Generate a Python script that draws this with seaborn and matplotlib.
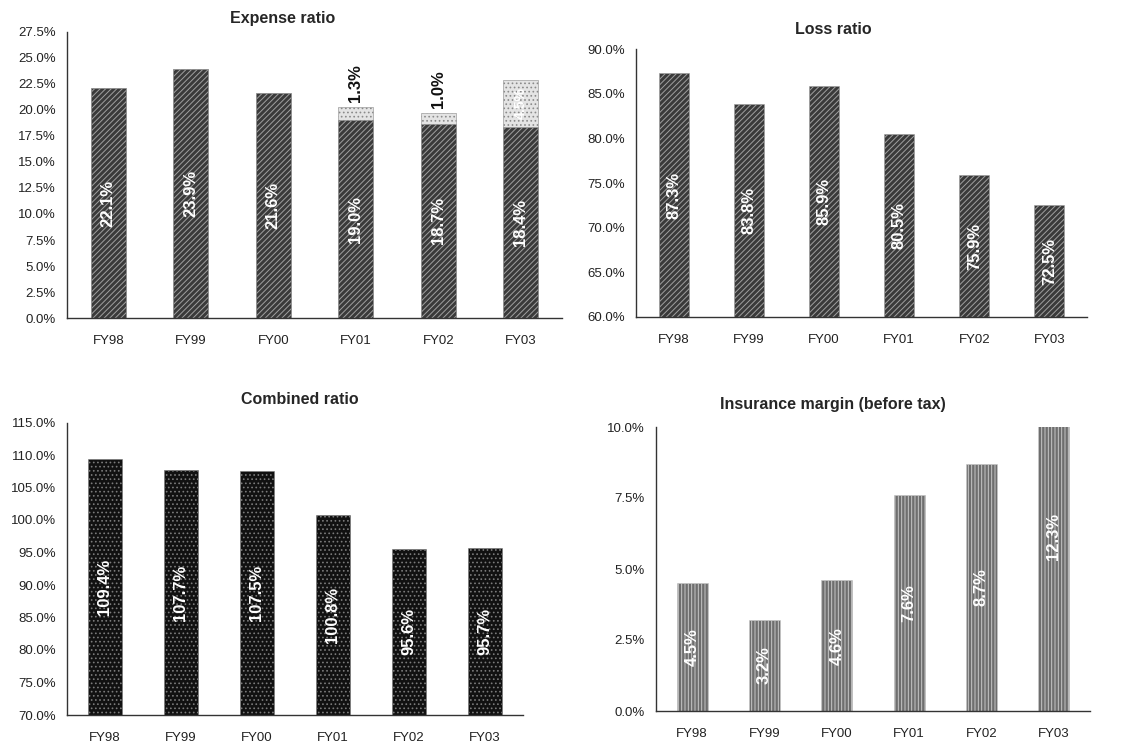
import matplotlib
matplotlib.use("Agg")
import matplotlib.pyplot as plt
import seaborn as sns
import numpy as np
from matplotlib.ticker import PercentFormatter, MultipleLocator

years = ["FY98", "FY99", "FY00", "FY01", "FY02", "FY03"]
expense_base = [22.1, 23.9, 21.6, 19.0, 18.7, 18.4]
expense_extra = [0.0, 0.0, 0.0, 1.3, 1.0, 4.5]
expense_extra_labels = ["", "", "", "1.3%", "1.0%", "4.5%"]
loss_ratio = [87.3, 83.8, 85.9, 80.5, 75.9, 72.5]
combined_ratio = [109.4, 107.7, 107.5, 100.8, 95.6, 95.7]
insurance_margin = [4.5, 3.2, 4.6, 7.6, 8.7, 12.3]

sns.set_style("white")
plt.rcParams["font.family"] = ["Liberation Sans", "DejaVu Sans"]
plt.rcParams["hatch.linewidth"] = 0.7

fig = plt.figure(figsize=(11.3, 7.44), dpi=100)

def style_axes(ax, ymin, ymax, step):
    ax.set_ylim(ymin, ymax)
    ax.yaxis.set_major_locator(MultipleLocator(step))
    ax.yaxis.set_major_formatter(PercentFormatter(decimals=1))
    for s in ["top", "right"]:
        ax.spines[s].set_visible(False)
    for s in ["left", "bottom"]:
        ax.spines[s].set_color("#333333")
        ax.spines[s].set_linewidth(1.0)
    ax.tick_params(axis="both", length=0, labelsize=9.5, colors="#222222", pad=8)
    ax.tick_params(axis="x", pad=12)
    ax.set_xlabel("")
    ax.set_ylabel("")

def style_bars(patches, face, hatch, edge):
    for p in patches:
        p.set_facecolor(face)
        p.set_hatch(hatch)
        p.set_edgecolor(edge)
        p.set_linewidth(0.4)

def inner_labels(ax, vals, ymin, ymax, mode="center"):
    for i, v in enumerate(vals):
        if mode == "half":
            y = v / 2.0
        else:
            y = (ymin + min(v, ymax)) / 2.0
        ax.text(i, y, f"{v:.1f}%", rotation=90, ha="center", va="center",
                color="white", fontsize=12, fontweight="bold")

# Expense ratio (stacked)
ax1 = fig.add_axes([67/1130, 1-318/744, 495/1130, 286/744])
totals = [b + e for b, e in zip(expense_base, expense_extra)]
sns.barplot(x=years, y=totals, ax=ax1, color="#dddddd", width=0.42)
n0 = len(ax1.patches)
style_bars(ax1.patches[:n0], "#e4e4e4", "....", "#8a8a8a")
sns.barplot(x=years, y=expense_base, ax=ax1, color="#444444", width=0.42)
style_bars(ax1.patches[n0:], "#3a3a3a", "//////", "#a0a0a0")
style_axes(ax1, 0, 27.5, 2.5)
inner_labels(ax1, expense_base, 0, 27.5)
for i, (b, e, lab) in enumerate(zip(expense_base, expense_extra, expense_extra_labels)):
    if not lab:
        continue
    if e < 3:
        ax1.text(i, b + e + 0.5, lab, rotation=90, ha="center", va="bottom",
                 color="#111111", fontsize=12, fontweight="bold")
    else:
        ax1.text(i, b + e / 2, lab, rotation=90, ha="center", va="center",
                 color="white", fontsize=10, fontweight="bold")
fig.text(283/1130, 1-18/744, "Expense ratio", ha="center", va="center",
         fontsize=11.5, fontweight="bold")

# Loss ratio
ax2 = fig.add_axes([636/1130, 1-317/744, 451/1130, 268/744])
sns.barplot(x=years, y=loss_ratio, ax=ax2, color="#444444", width=0.4)
style_bars(ax2.patches, "#3a3a3a", "//////", "#a0a0a0")
style_axes(ax2, 60, 90, 5)
inner_labels(ax2, loss_ratio, 60, 90)
fig.text(833/1130, 1-30/744, "Loss ratio", ha="center", va="center",
         fontsize=11.5, fontweight="bold")

# Combined ratio
ax3 = fig.add_axes([67/1130, 1-715/744, 456/1130, 292.5/744])
sns.barplot(x=years, y=combined_ratio, ax=ax3, color="#111111", width=0.45)
style_bars(ax3.patches, "#111111", "....", "#7a7a7a")
style_axes(ax3, 70, 115, 5)
inner_labels(ax3, combined_ratio, 70, 115)
fig.text(300/1130, 1-400/744, "Combined ratio", ha="center", va="center",
         fontsize=11.5, fontweight="bold")

# Insurance margin
ax4 = fig.add_axes([656/1130, 1-711/744, 434/1130, 284/744])
sns.barplot(x=years, y=insurance_margin, ax=ax4, color="#777777", width=0.43)
style_bars(ax4.patches, "#6e6e6e", "|||||", "#c8c8c8")
style_axes(ax4, 0, 10, 2.5)
inner_labels(ax4, insurance_margin, 0, 10, mode="half")
fig.text(833/1130, 1-405/744, "Insurance margin (before tax)", ha="center",
         va="center", fontsize=11.5, fontweight="bold")

fig.savefig("out.png", dpi=100)
